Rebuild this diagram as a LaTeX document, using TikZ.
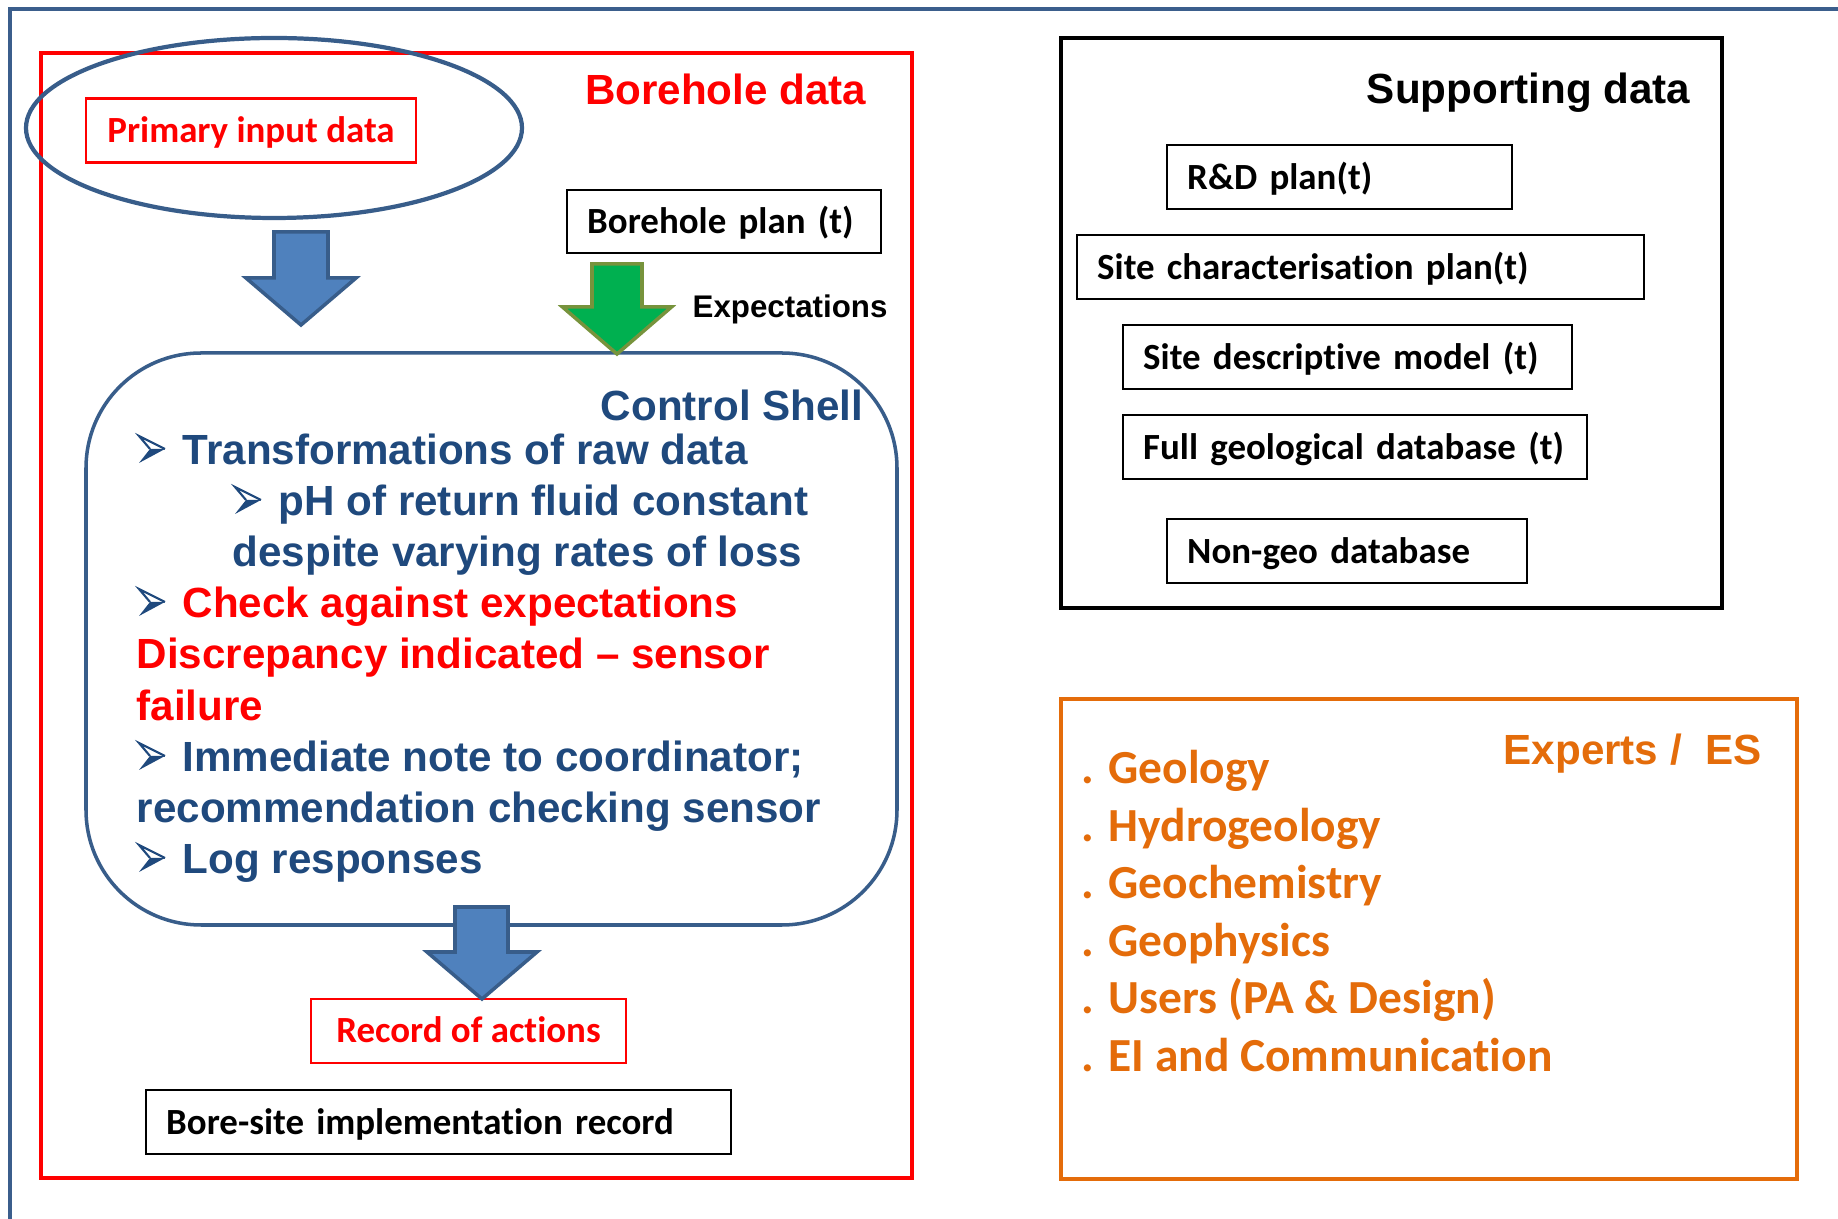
\documentclass[tikz,border=0pt]{standalone}
\usepackage{fontspec}
\setmainfont{Liberation Sans}
\newfontfamily\calibri[Ligatures=NoCommon]{Carlito}
\usetikzlibrary{positioning,shapes.geometric}
\definecolor{FrameBlue}{HTML}{3B5E8C}
\definecolor{TextBlue}{HTML}{1F497D}
\definecolor{FillBlue}{HTML}{4F81BD}
\definecolor{EdgeBlue}{HTML}{385D8A}
\definecolor{FillGreen}{HTML}{00B050}
\definecolor{EdgeGreen}{HTML}{77933C}
\definecolor{BoreRed}{HTML}{FF0000}
\definecolor{ExpOrange}{HTML}{E46C0A}

\begin{document}
\begin{tikzpicture}[
    font=\fontsize{12}{14}\selectfont\bfseries,
    databox/.style={rectangle, draw=black, line width=0.7pt, font=\calibri\bfseries\fontsize{10.5}{12}\selectfont, align=left, inner xsep=0.2cm, inner ysep=0pt, text height=9.3pt, text depth=2.5pt, minimum height=0.64cm, anchor=north west},
    redbox/.style={rectangle, draw=BoreRed, line width=0.7pt, text=BoreRed, font=\calibri\bfseries\fontsize{10.5}{12}\selectfont, align=center, inner sep=0pt, text height=9.3pt, text depth=2.5pt, minimum height=0.64cm},
    heading/.style={anchor=base east, inner sep=0pt},
    shellline/.style={anchor=base west, inner sep=0pt, text=TextBlue},
    expert/.style={anchor=base west, inner sep=0pt, text=ExpOrange, font=\calibri\bfseries\fontsize{13.5}{15}\selectfont},
    bluearrow/.style={draw=EdgeBlue, fill=FillBlue, line width=1pt},
    greenarrow/.style={draw=EdgeGreen, fill=FillGreen, line width=1pt},
    shellbullet/.pic={
        \fill[TextBlue] (0.12,0.16) -- (0.01,0.02) -- (0.27,0.16) -- cycle;
        \draw[TextBlue, line width=0.6pt, line join=miter] (0.27,0.16) -- (0.01,0.29) -- (0.12,0.16);
    }
]
\path[use as bounding box, fill=white] (0,0) rectangle (18.38,-12.19);
\draw[FrameBlue, line width=1.1pt] (0.10,-12.40) -- (0.10,-0.09) -- (18.60,-0.09);

% borehole side
\node[rectangle, draw=BoreRed, line width=1pt, minimum width=8.71cm, minimum height=11.25cm] (borehole) at (4.765,-6.155) {};
\node[heading, text=BoreRed] (bdtitle) at (8.67,-1.05) {Borehole data};
\node[ellipse, draw=EdgeBlue, line width=1.2pt, minimum width=4.96cm, minimum height=1.80cm] (inputs) at (2.74,-1.28) {};
\node[redbox, minimum width=3.30cm] (primary) at (2.51,-1.305) {Primary input data};
\node[databox, text width=2.74cm, minimum height=0.63cm] (bplan) at (5.66,-1.89) {Borehole plan (t)};
\node[anchor=base west, inner sep=0pt, font=\fontsize{8.9}{10}\selectfont\bfseries] (expect) at (6.92,-3.18) {Expectations};

\node[rectangle, rounded corners=1.15cm, draw=EdgeBlue, line width=1pt, minimum width=8.11cm, minimum height=5.72cm] (shell) at (4.915,-6.39) {};
\node[heading, text=TextBlue] (cstitle) at (8.64,-4.21) {Control Shell};
\node[shellline] (l1) at (1.82,-4.65) {Transformations of raw data};
\node[shellline] (l2) at (2.78,-5.16) {pH of return fluid constant};
\node[shellline] (l3) at (2.32,-5.67) {despite varying rates of loss};
\node[shellline, text=BoreRed] (l4) at (1.82,-6.18) {Check against expectations};
\node[shellline, text=BoreRed] (l5) at (1.36,-6.69) {Discrepancy indicated – sensor};
\node[shellline, text=BoreRed] (l6) at (1.36,-7.21) {failure};
\node[shellline] (l7) at (1.82,-7.72) {Immediate note to coordinator;};
\node[shellline] (l8) at (1.36,-8.23) {recommendation checking sensor};
\node[shellline] (l9) at (1.82,-8.74) {Log responses};
\foreach \n in {l1,l2,l4,l7,l9}
  \pic at ([xshift=-0.44cm]\n.base west) {shellbullet};

\node[redbox, minimum width=3.15cm] (record) at (4.685,-10.31) {Record of actions};
\node[databox, text width=5.45cm] (boresite) at (1.45,-10.89) {Bore-site implementation record};

% block arrows
\draw[bluearrow] (2.74,-2.32) -- (3.28,-2.32) -- (3.28,-2.78) -- (3.56,-2.78) -- (3.01,-3.25) -- (2.46,-2.78) -- (2.74,-2.78) -- cycle;
\draw[greenarrow] (5.92,-2.64) -- (6.42,-2.64) -- (6.42,-3.07) -- (6.715,-3.07) -- (6.17,-3.54) -- (5.625,-3.07) -- (5.92,-3.07) -- cycle;
\draw[bluearrow] (4.55,-9.07) -- (5.08,-9.07) -- (5.08,-9.52) -- (5.37,-9.52) -- (4.82,-9.99) -- (4.27,-9.52) -- (4.55,-9.52) -- cycle;

% supporting data
\node[rectangle, draw=black, line width=1.4pt, minimum width=6.61cm, minimum height=5.70cm] (support) at (13.915,-3.23) {};
\node[heading] (sdtitle) at (16.91,-1.04) {Supporting data};
\node[databox, text width=3.05cm] (rdplan) at (11.66,-1.44) {R\&D plan(t)};
\node[databox, text width=5.27cm] (scplan) at (10.76,-2.34) {Site characterisation plan(t)};
\node[databox, text width=4.09cm] (sdmodel) at (11.22,-3.24) {Site descriptive model (t)};
\node[databox, text width=4.24cm] (geodb) at (11.22,-4.14) {Full geological database (t)};
\node[databox, text width=3.20cm] (nongeo) at (11.66,-5.18) {Non-geo database};

% experts
\node[rectangle, draw=ExpOrange, line width=1pt, minimum width=7.36cm, minimum height=4.80cm] (experts) at (14.29,-9.39) {};
\node[anchor=base west, inner sep=0pt, text=ExpOrange] (extitle) at (15.03,-7.65) {Experts /\ \ ES};
\foreach \topic [count=\i] in {Geology, Hydrogeology, Geochemistry, Geophysics, Users (PA \& Design), EI and Communication}
  \node[expert] (exp\i) at (10.81,{-7.84-0.574*(\i-1)}) {. \topic};
\end{tikzpicture}
\end{document}
